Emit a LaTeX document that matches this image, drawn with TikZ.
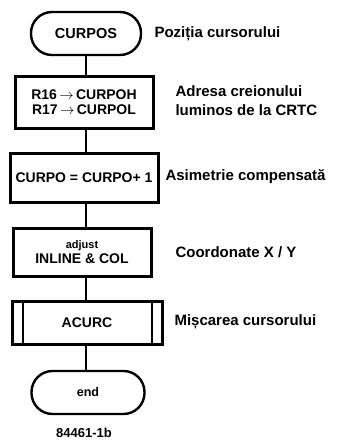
\documentclass[tikz,border=0pt]{standalone}
\usepackage{fontspec}
\setmainfont{Liberation Sans}

\begin{document}
\begin{tikzpicture}[
        x=1pt,
        y=-1pt,
        every node/.style={font=\bfseries},
        term/.style={
            rectangle,
            rounded corners=21pt,
            draw,
            line width=2.4pt,
            minimum width=110pt,
            minimum height=43pt,
            inner sep=1pt
        },
        proc/.style={
            rectangle,
            draw,
            line width=3pt,
            minimum width=138pt,
            minimum height=49pt,
            align=center,
            inner sep=1pt,
            font=\fontsize{14}{15.5}\selectfont\bfseries
        },
        note/.style={
            anchor=west,
            align=left,
            font=\fontsize{15}{19}\selectfont\bfseries
        },
        link/.style={draw, line width=1.3pt}
    ]
    \useasboundingbox (0,0) rectangle (345,442);

    % Flow
    \node[term, font=\fontsize{14.5}{16}\selectfont\bfseries] (curpos) at (86,33.5) {CURPOS};
    \node[proc, minimum height=52pt] (rdpen) at (84,102) {R16\,$\rightarrow$\,CURPOH\\R17\,$\rightarrow$\,CURPOL};
    \node[proc, minimum width=148pt] (incr) at (84,177.5) {CURPO = CURPO+ 1};
    \node[proc, minimum height=48pt] (adjust) at (82,252) {{\fontsize{11}{13}\selectfont adjust}\\INLINE \& COL};
    \node[proc, minimum width=150pt, minimum height=43pt] (acurc) at (87,322.5) {ACURC};
    \node[term, font=\fontsize{12.5}{14}\selectfont\bfseries, minimum width=113pt] (stop) at (88,392.5) {end};

    % double side bars of the subroutine box
    \draw[line width=2pt] ([xshift=12pt]acurc.north west) -- ([xshift=12pt]acurc.south west);
    \draw[line width=2pt] ([xshift=-12pt]acurc.north east) -- ([xshift=-12pt]acurc.south east);

    % Links
    \draw[link] (curpos.south) -- (curpos.south |- rdpen.north);
    \draw[link] (curpos.south |- rdpen.south) -- (curpos.south |- incr.north);
    \draw[link] (curpos.south |- incr.south) -- (curpos.south |- adjust.north);
    \draw[link] (curpos.south |- adjust.south) -- (curpos.south |- acurc.north);
    \draw[link] (curpos.south |- acurc.south) -- (curpos.south |- stop.north);

    % Comments
    \node[note] (n1) at (151,33.5) {Poziția cursorului};
    \node[note] (n2) at (172,101) {Adresa creionului\\luminos de la CRTC};
    \node[note] (n3) at (162,177) {Asimetrie compensată};
    \node[note] (n4) at (172,252) {Coordonate X / Y};
    \node[note] (n5) at (171,322) {Mișcarea cursorului};

    \node[font=\fontsize{13}{15}\selectfont\bfseries] (fig) at (84,433) {84461-1b};
\end{tikzpicture}
\end{document}
